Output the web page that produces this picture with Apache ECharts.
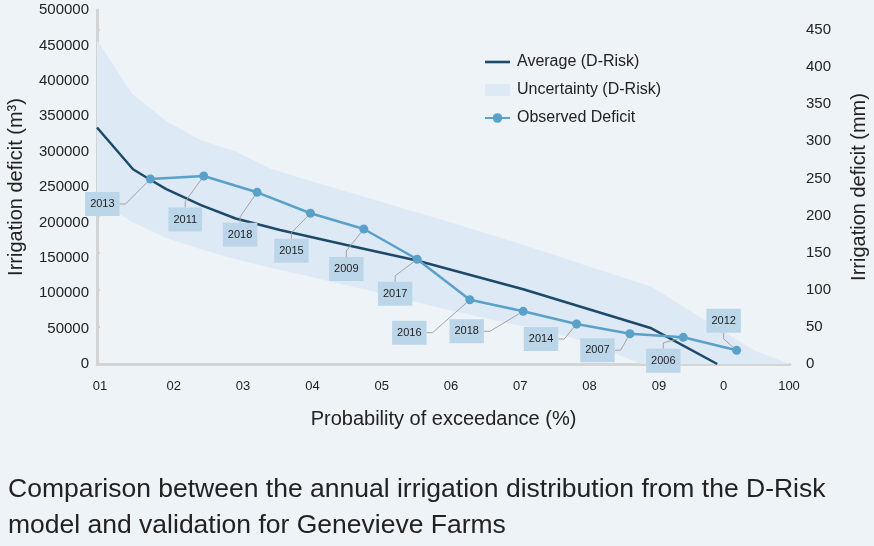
<!DOCTYPE html>
<html>
<head>
<meta charset="utf-8">
<script src="https://cdn.jsdelivr.net/npm/echarts@6/dist/echarts.min.js"></script>
<style>
html,body{margin:0;padding:0;background:#eef3f8;}
#chart{width:874px;height:546px;}
</style>
</head>
<body>
<div id="chart"></div>
<script>
// ---- data ----
var xTickLabels = ['01','02','03','04','05','06','07','08','09','0','100'];

var observedYears = ['2013','2011','2018','2015','2009','2017','2016','2018','2014','2007','2006','2012'];
var observedProb = [7.7, 15.4, 23.1, 30.8, 38.5, 46.2, 53.8, 61.5, 69.2, 76.9, 84.6, 92.3];
var observedDeficit = [261300, 265500, 242500, 212900, 190700, 147900, 90800, 74400, 56500, 42800, 37700, 19300];

var averageProb = [0, 5.2, 7.5, 10, 15, 20, 26.4, 36, 46, 61.5, 80, 89.5];
var averageDeficit = [334000, 275000, 261300, 247000, 224500, 205500, 189300, 168100, 146500, 105500, 50400, 0];

var bandProb = [0, 5, 10, 15, 20, 25, 30, 40, 50, 60, 65, 70, 75, 78.5, 80, 90, 95, 100];
var bandUpper = [457600, 382300, 343000, 316000, 300000, 276000, 261000, 232000, 203000, 173000, 157000, 141000, 125000, 114000, 109000, 48000, 18500, 0];
var bandLower = [232000, 201000, 178000, 162000, 148000, 136000, 125000, 102000, 78000, 56000, 47000, 33000, 14000, 0, 0, 0, 0, 0];

// label offsets (px) relative to each observed point
var labelDx = [-48, -18.5, -17, -19, -17.5, -22, -60.5, -56.5, -35.5, -32.5, -20, -13];
var labelDy = [25, 43.5, 42.5, 37.5, 40, 34.5, 33, 20, 15, 16.5, 23.5, -29.5];

// ---- build ----
var FONT = "'Liberation Sans', Arial, sans-serif";
var AXIS_COLOR = '#d4d4d4';
var BAND_COLOR = '#dde9f4';
var DARK = '#1d4a6b';
var OBS = '#5aa1ca';

function zip(a, b) { return a.map(function (v, i) { return [v, b[i]]; }); }

var bandData = bandProb.map(function (x, i) { return [x, bandUpper[i], bandLower[i]]; });

var chart = echarts.init(document.getElementById('chart'));
chart.setOption({
  backgroundColor: '#eef3f8',
  animation: false,
  textStyle: { fontFamily: FONT },
  title: {
    text: 'Comparison between the annual irrigation distribution from the D-Risk\nmodel and validation for Genevieve Farms',
    left: 3, top: 467,
    textStyle: { fontFamily: FONT, fontSize: 26.5, fontWeight: 'normal', color: '#222', lineHeight: 36 }
  },
  legend: {
    orient: 'vertical', left: 479, top: 49,
    itemWidth: 25, itemHeight: 12, itemGap: 12,
    textStyle: { fontFamily: FONT, fontSize: 16, color: '#222', padding: [0, 0, 0, 2] },
    data: [
      { name: 'Average (D-Risk)', icon: 'path://M0 0H25V2.6H0Z' },
      { name: 'Uncertainty (D-Risk)', icon: 'rect' },
      { name: 'Observed Deficit' }
    ]
  },
  grid: [
    { left: 97, right: 84, top: 10, bottom: 182, containLabel: false, outerBoundsMode: 'none' },
    { left: 97, right: 84, top: 30, bottom: 182, containLabel: false, outerBoundsMode: 'none' }
  ],
  xAxis: [
    {
      type: 'value', gridIndex: 0, min: 0, max: 100, interval: 10,
      name: 'Probability of exceedance (%)', nameLocation: 'middle', nameGap: 45,
      nameTextStyle: { fontFamily: FONT, fontSize: 20, color: '#222' },
      axisLine: { show: true, lineStyle: { color: AXIS_COLOR, width: 3 } },
      axisTick: { show: false },
      splitLine: { show: false },
      axisLabel: {
        fontFamily: FONT, fontSize: 13, color: '#222', margin: 16,
        formatter: function (v) {
          var i = Math.round(v / 10);
          var t = xTickLabels[i];
          if (i === 0 || i === 9) return '{s|' + t + '}';
          if (i === 10) return '{e|' + t + '}';
          return '{m|' + t + '}';
        },
        rich: {
          s: { fontFamily: FONT, fontSize: 13, color: '#222', padding: [0, 0, 0, 6] },
          m: { fontFamily: FONT, fontSize: 13, color: '#222', padding: [0, 0, 0, 15] },
          e: { fontFamily: FONT, fontSize: 13, color: '#222', padding: [0, 2, 0, 0] }
        }
      }
    },
    { type: 'value', gridIndex: 1, min: 0, max: 100, show: false }
  ],
  yAxis: [
    {
      type: 'value', gridIndex: 0, min: 0, max: 500000, interval: 50000,
      name: 'Irrigation deficit (m³)', nameLocation: 'middle', nameGap: 71,
      nameTextStyle: { fontFamily: FONT, fontSize: 20, color: '#222' },
      axisLine: { show: true, lineStyle: { color: AXIS_COLOR, width: 3 } },
      axisTick: { show: false },
      splitLine: { show: false },
      axisLabel: { fontFamily: FONT, fontSize: 15, color: '#222', margin: 8,
        formatter: function (v) { return String(v); } }
    },
    {
      type: 'value', gridIndex: 1, position: 'right', min: 0, max: 450, interval: 50,
      name: 'Irrigation deficit (mm)', nameLocation: 'middle', nameGap: 59,
      nameTextStyle: { fontFamily: FONT, fontSize: 20, color: '#222', padding: [0, 0, 0, 20] },
      axisLine: { show: true, lineStyle: { color: AXIS_COLOR, width: 3 } },
      axisTick: { show: true, length: 3, lineStyle: { color: AXIS_COLOR, width: 2 } },
      splitLine: { show: false },
      axisLabel: { fontFamily: FONT, fontSize: 15, color: '#222', margin: 16,
        formatter: function (v) { return String(v); } }
    }
  ],
  series: [
    {
      name: 'Uncertainty (D-Risk)', type: 'custom', xAxisIndex: 0, yAxisIndex: 0,
      data: bandData, encode: { x: 0, y: [1, 2] },
      itemStyle: { color: BAND_COLOR }, z: 1, silent: true,
      renderItem: function (params, api) {
        if (params.dataIndex !== 0) return null;
        var pts = [];
        for (var i = 0; i < bandProb.length; i++) pts.push(api.coord([bandProb[i], bandUpper[i]]));
        for (var j = bandProb.length - 1; j >= 0; j--) pts.push(api.coord([bandProb[j], bandLower[j]]));
        return { type: 'polygon', shape: { points: pts }, style: { fill: BAND_COLOR } };
      }
    },
    {
      name: 'Average (D-Risk)', type: 'line', xAxisIndex: 0, yAxisIndex: 0,
      data: zip(averageProb, averageDeficit), symbol: 'none',
      itemStyle: { color: DARK },
      lineStyle: { color: DARK, width: 2.5 }, z: 3
    },
    {
      name: 'Observed Deficit', type: 'line', xAxisIndex: 0, yAxisIndex: 0,
      data: zip(observedProb, observedDeficit),
      symbol: 'circle', symbolSize: 9, showSymbol: true,
      itemStyle: { color: OBS },
      lineStyle: { color: OBS, width: 2.5 }, z: 4,
      label: {
        show: true, position: 'inside',
        formatter: function (p) { return observedYears[p.dataIndex]; },
        fontFamily: FONT, fontSize: 11, color: '#222',
        backgroundColor: '#bcd6e9', padding: [6, 5, 5, 5], lineHeight: 13
      },
      labelLine: { show: true, length2: 6, lineStyle: { color: '#a3a3a3', width: 1 } },
      labelLayout: function (p) {
        return { dx: labelDx[p.dataIndex], dy: labelDy[p.dataIndex] };
      }
    }
  ]
});
</script>
</body>
</html>
